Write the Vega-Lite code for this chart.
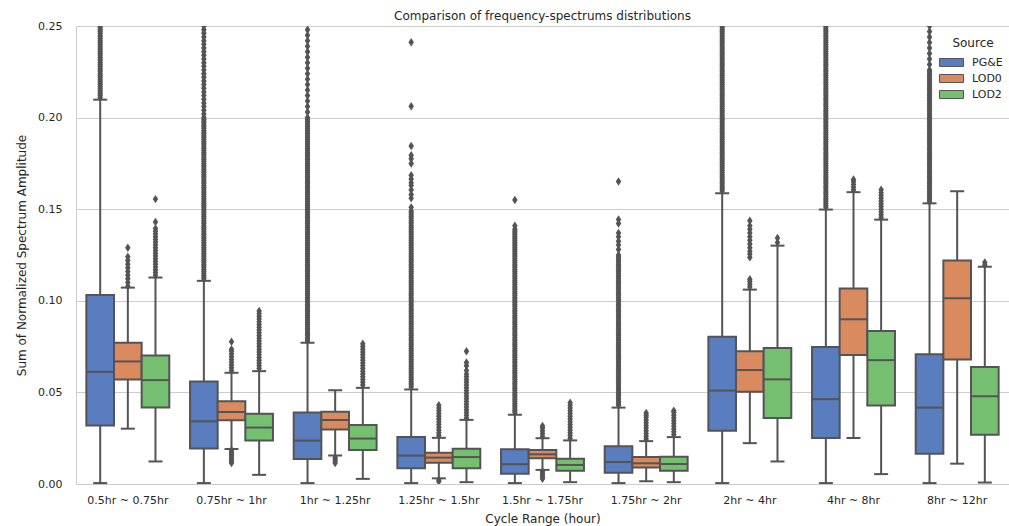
{
  "$schema": "https://vega.github.io/schema/vega-lite/v6.json",
  "width": 933,
  "height": 458,
  "autosize": {"type": "none"},
  "padding": {"left": 76, "top": 26, "right": 0, "bottom": 42},
  "background": "white",
  "title": {
    "text": "Comparison of frequency-spectrums distributions",
    "fontSize": 12,
    "fontWeight": "normal",
    "color": "#262626",
    "offset": -3,
    "anchor": "middle"
  },
  "config": {
    "font": "DejaVu Sans",
    "view": {"stroke": "#cccccc", "strokeWidth": 1},
    "axis": {
      "labelColor": "#262626",
      "titleColor": "#262626",
      "labelFontSize": 11,
      "titleFontSize": 12,
      "titleFontWeight": "normal",
      "ticks": false,
      "domain": false
    },
    "legend": {
      "orient": "none",
      "legendX": 867,
      "legendY": 12,
      "padding": 0,
      "titleFontSize": 12,
      "titleFontWeight": "normal",
      "titleColor": "#262626",
      "titleAnchor": "middle",
      "titlePadding": 4,
      "labelFontSize": 11,
      "labelColor": "#262626",
      "labelOffset": 12,
      "rowPadding": 1,
      "symbolType": "M-1.5,-0.5L1.5,-0.5L1.5,0.5L-1.5,0.5Z",
      "symbolSize": 256,
      "symbolStrokeColor": "#545454",
      "symbolStrokeWidth": 1,
      "symbolOpacity": 1
    }
  },
  "data": {
    "values": [
      {"range": "0.5hr ~ 0.75hr", "source": "PG&E", "lo": 0.0005, "q1": 0.0319, "med": 0.0612, "q3": 0.1031, "hi": 0.2098,
       "out": [0.211,0.212,0.213,0.214,0.215,0.216,0.217,0.218,0.219,0.22,0.221,0.222,0.223,0.224,0.225,0.226,0.227,0.228,0.229,0.23,0.231,0.232,0.233,0.234,0.235,0.236,0.237,0.238,0.239,0.24,0.241,0.242,0.243,0.244,0.245,0.246,0.247,0.248,0.249,0.25]},
      {"range": "0.5hr ~ 0.75hr", "source": "LOD0", "lo": 0.0302, "q1": 0.0571, "med": 0.0669, "q3": 0.0771, "hi": 0.1072,
       "out": [0.108,0.11,0.112,0.114,0.116,0.118,0.12,0.122,0.124,0.129]},
      {"range": "0.5hr ~ 0.75hr", "source": "LOD2", "lo": 0.0123, "q1": 0.0417, "med": 0.0567, "q3": 0.0702, "hi": 0.1127,
       "out": [0.114,0.1155,0.117,0.1185,0.12,0.1215,0.123,0.1245,0.126,0.1275,0.129,0.1305,0.132,0.1335,0.135,0.1365,0.138,0.1395,0.143,0.1555]},

      {"range": "0.75hr ~ 1hr", "source": "PG&E", "lo": 0.0005, "q1": 0.0194, "med": 0.0342, "q3": 0.056, "hi": 0.1109,
       "out": [0.112,0.113,0.114,0.115,0.116,0.117,0.118,0.119,0.12,0.121,0.122,0.123,0.124,0.125,0.126,0.127,0.128,0.129,0.13,0.131,0.132,0.133,0.134,0.135,0.136,0.137,0.138,0.139,0.14,0.141,0.142,0.143,0.144,0.145,0.146,0.147,0.148,0.149,0.15,0.151,0.152,0.153,0.154,0.155,0.156,0.157,0.158,0.159,0.16,0.161,0.162,0.163,0.164,0.165,0.166,0.167,0.168,0.169,0.17,0.171,0.172,0.173,0.174,0.175,0.176,0.177,0.178,0.179,0.18,0.181,0.182,0.183,0.184,0.185,0.186,0.187,0.188,0.189,0.19,0.191,0.192,0.193,0.194,0.195,0.196,0.197,0.198,0.199,0.2,0.202,0.204,0.206,0.208,0.21,0.212,0.214,0.216,0.218,0.22,0.222,0.224,0.226,0.228,0.23,0.232,0.234,0.236,0.238,0.24,0.242,0.244,0.246,0.248,0.25]},
      {"range": "0.75hr ~ 1hr", "source": "LOD0", "lo": 0.0191, "q1": 0.0348, "med": 0.0393, "q3": 0.0452, "hi": 0.0607,
       "out": [0.062,0.0635,0.065,0.0665,0.068,0.0695,0.071,0.0725,0.0735,0.0777,0.0185,0.0175,0.0165,0.0155,0.0145,0.0135,0.0125,0.0115]},
      {"range": "0.75hr ~ 1hr", "source": "LOD2", "lo": 0.005, "q1": 0.0237, "med": 0.0308, "q3": 0.0384, "hi": 0.0616,
       "out": [0.063,0.0645,0.066,0.0675,0.069,0.0705,0.072,0.0735,0.075,0.0765,0.078,0.0795,0.081,0.0825,0.084,0.0855,0.087,0.0885,0.09,0.0915,0.093,0.0945]},

      {"range": "1hr ~ 1.25hr", "source": "PG&E", "lo": 0.0005, "q1": 0.0136, "med": 0.0237, "q3": 0.039, "hi": 0.0771,
       "out": [0.078,0.079,0.08,0.081,0.082,0.083,0.084,0.085,0.086,0.087,0.088,0.089,0.09,0.091,0.092,0.093,0.094,0.095,0.096,0.097,0.098,0.099,0.1,0.101,0.102,0.103,0.104,0.105,0.106,0.107,0.108,0.109,0.11,0.111,0.112,0.113,0.114,0.115,0.116,0.117,0.118,0.119,0.12,0.121,0.122,0.123,0.124,0.125,0.126,0.127,0.128,0.129,0.13,0.131,0.132,0.133,0.134,0.135,0.136,0.137,0.138,0.139,0.14,0.141,0.142,0.143,0.144,0.145,0.146,0.147,0.148,0.149,0.15,0.151,0.152,0.153,0.154,0.155,0.156,0.157,0.158,0.159,0.16,0.161,0.162,0.163,0.164,0.165,0.166,0.167,0.168,0.169,0.17,0.171,0.172,0.173,0.174,0.175,0.176,0.177,0.178,0.179,0.18,0.181,0.182,0.183,0.184,0.185,0.186,0.187,0.188,0.189,0.19,0.191,0.192,0.193,0.194,0.195,0.196,0.197,0.198,0.199,0.2,0.203,0.206,0.209,0.212,0.215,0.218,0.221,0.224,0.227,0.23,0.233,0.236,0.239,0.242,0.245,0.248]},
      {"range": "1hr ~ 1.25hr", "source": "LOD0", "lo": 0.0155, "q1": 0.0298, "med": 0.035, "q3": 0.0395, "hi": 0.0512,
       "out": [0.0145,0.0135,0.0125,0.0115]},
      {"range": "1hr ~ 1.25hr", "source": "LOD2", "lo": 0.0028, "q1": 0.0185, "med": 0.0248, "q3": 0.0322, "hi": 0.0525,
       "out": [0.054,0.0555,0.057,0.0585,0.06,0.0615,0.063,0.0645,0.066,0.0675,0.069,0.0705,0.072,0.0735,0.075,0.0765]},

      {"range": "1.25hr ~ 1.5hr", "source": "PG&E", "lo": 0.0005, "q1": 0.0086, "med": 0.0155, "q3": 0.0257, "hi": 0.0516,
       "out": [0.053,0.054,0.055,0.056,0.057,0.058,0.059,0.06,0.061,0.062,0.063,0.064,0.065,0.066,0.067,0.068,0.069,0.07,0.071,0.072,0.073,0.074,0.075,0.076,0.077,0.078,0.079,0.08,0.081,0.082,0.083,0.084,0.085,0.086,0.087,0.088,0.089,0.09,0.091,0.092,0.093,0.094,0.095,0.096,0.097,0.098,0.099,0.1,0.101,0.102,0.103,0.104,0.105,0.106,0.107,0.108,0.109,0.11,0.111,0.112,0.113,0.114,0.115,0.116,0.117,0.118,0.119,0.12,0.121,0.122,0.123,0.124,0.125,0.126,0.127,0.128,0.129,0.13,0.131,0.132,0.133,0.134,0.135,0.136,0.137,0.138,0.139,0.14,0.141,0.142,0.143,0.144,0.145,0.146,0.147,0.148,0.149,0.151,0.156,0.158,0.1605,0.163,0.1645,0.1665,0.1685,0.175,0.1775,0.1795,0.1845,0.2062,0.2411]},
      {"range": "1.25hr ~ 1.5hr", "source": "LOD0", "lo": 0.0031, "q1": 0.0116, "med": 0.0144, "q3": 0.0171, "hi": 0.0252,
       "out": [0.0265,0.028,0.0295,0.031,0.0325,0.034,0.0355,0.037,0.0385,0.04,0.0415,0.043,0.0022,0.0014]},
      {"range": "1.25hr ~ 1.5hr", "source": "LOD2", "lo": 0.001, "q1": 0.0086, "med": 0.0147, "q3": 0.0192, "hi": 0.035,
       "out": [0.036,0.0375,0.039,0.0405,0.042,0.0435,0.045,0.0465,0.048,0.0495,0.051,0.0525,0.054,0.0555,0.057,0.0585,0.06,0.062,0.0645,0.0663,0.0725]},

      {"range": "1.5hr ~ 1.75hr", "source": "PG&E", "lo": 0.0005, "q1": 0.0056, "med": 0.0108, "q3": 0.019, "hi": 0.0378,
       "out": [0.039,0.04,0.041,0.042,0.043,0.044,0.045,0.046,0.047,0.048,0.049,0.05,0.051,0.052,0.053,0.054,0.055,0.056,0.057,0.058,0.059,0.06,0.061,0.062,0.063,0.064,0.065,0.066,0.067,0.068,0.069,0.07,0.071,0.072,0.073,0.074,0.075,0.076,0.077,0.078,0.079,0.08,0.081,0.082,0.083,0.084,0.085,0.086,0.087,0.088,0.089,0.09,0.091,0.092,0.093,0.094,0.095,0.096,0.097,0.098,0.099,0.1,0.101,0.102,0.103,0.104,0.105,0.106,0.107,0.108,0.109,0.11,0.111,0.112,0.113,0.114,0.115,0.116,0.117,0.118,0.119,0.12,0.121,0.122,0.123,0.124,0.125,0.126,0.127,0.128,0.129,0.13,0.131,0.132,0.133,0.134,0.135,0.136,0.137,0.138,0.139,0.141,0.155]},
      {"range": "1.5hr ~ 1.75hr", "source": "LOD0", "lo": 0.0077, "q1": 0.014, "med": 0.0162, "q3": 0.0185, "hi": 0.025,
       "out": [0.026,0.0275,0.029,0.0305,0.0317,0.0068,0.0058,0.0048,0.0038,0.0028]},
      {"range": "1.5hr ~ 1.75hr", "source": "LOD2", "lo": 0.001, "q1": 0.0072, "med": 0.0104, "q3": 0.0138, "hi": 0.0238,
       "out": [0.025,0.0265,0.028,0.0295,0.031,0.0325,0.034,0.0355,0.037,0.0385,0.04,0.0415,0.043,0.0444]},

      {"range": "1.75hr ~ 2hr", "source": "PG&E", "lo": 0.0005, "q1": 0.0061, "med": 0.012, "q3": 0.0206, "hi": 0.0417,
       "out": [0.043,0.044,0.045,0.046,0.047,0.048,0.049,0.05,0.051,0.052,0.053,0.054,0.055,0.056,0.057,0.058,0.059,0.06,0.061,0.062,0.063,0.064,0.065,0.066,0.067,0.068,0.069,0.07,0.071,0.072,0.073,0.074,0.075,0.076,0.077,0.078,0.079,0.08,0.081,0.082,0.083,0.084,0.085,0.086,0.087,0.088,0.089,0.09,0.091,0.092,0.093,0.094,0.095,0.096,0.097,0.098,0.099,0.1,0.101,0.102,0.103,0.104,0.105,0.106,0.107,0.108,0.109,0.11,0.111,0.112,0.113,0.114,0.115,0.116,0.117,0.118,0.119,0.12,0.121,0.122,0.123,0.124,0.125,0.128,0.1305,0.1325,0.135,0.137,0.1422,0.1444,0.1651]},
      {"range": "1.75hr ~ 2hr", "source": "LOD0", "lo": 0.0015, "q1": 0.009, "med": 0.0113, "q3": 0.0147, "hi": 0.0234,
       "out": [0.0245,0.026,0.0275,0.029,0.0305,0.032,0.0335,0.035,0.0365,0.0375,0.0388]},
      {"range": "1.75hr ~ 2hr", "source": "LOD2", "lo": 0.001, "q1": 0.0072, "med": 0.0109, "q3": 0.0149, "hi": 0.0256,
       "out": [0.027,0.0285,0.03,0.0315,0.033,0.0345,0.036,0.0375,0.039,0.04]},

      {"range": "2hr ~ 4hr", "source": "PG&E", "lo": 0.0005, "q1": 0.0291, "med": 0.051, "q3": 0.0804, "hi": 0.1587,
       "out": [0.16,0.161,0.162,0.163,0.164,0.165,0.166,0.167,0.168,0.169,0.17,0.171,0.172,0.173,0.174,0.175,0.176,0.177,0.178,0.179,0.18,0.181,0.182,0.183,0.184,0.185,0.186,0.187,0.188,0.189,0.19,0.191,0.192,0.193,0.194,0.195,0.196,0.197,0.198,0.199,0.2,0.201,0.202,0.203,0.204,0.205,0.206,0.207,0.208,0.209,0.21,0.211,0.212,0.213,0.214,0.215,0.216,0.217,0.218,0.219,0.22,0.221,0.222,0.223,0.224,0.225,0.226,0.227,0.228,0.229,0.23,0.231,0.232,0.233,0.234,0.235,0.236,0.237,0.238,0.239,0.24,0.241,0.242,0.243,0.244,0.245,0.246,0.247,0.248,0.249,0.25]},
      {"range": "2hr ~ 4hr", "source": "LOD0", "lo": 0.0223, "q1": 0.0503, "med": 0.0622, "q3": 0.0724, "hi": 0.1061,
       "out": [0.1075,0.109,0.1105,0.1118,0.1237,0.1255,0.127,0.129,0.131,0.133,0.135,0.137,0.139,0.141,0.1437]},
      {"range": "2hr ~ 4hr", "source": "LOD2", "lo": 0.0123, "q1": 0.036, "med": 0.0571, "q3": 0.0742, "hi": 0.1301,
       "out": [0.1318,0.1343]},

      {"range": "4hr ~ 8hr", "source": "PG&E", "lo": 0.0005, "q1": 0.0251, "med": 0.0463, "q3": 0.0748, "hi": 0.1498,
       "out": [0.151,0.152,0.153,0.154,0.155,0.156,0.157,0.158,0.159,0.16,0.161,0.162,0.163,0.164,0.165,0.166,0.167,0.168,0.169,0.17,0.171,0.172,0.173,0.174,0.175,0.176,0.177,0.178,0.179,0.18,0.181,0.182,0.183,0.184,0.185,0.186,0.187,0.188,0.189,0.19,0.191,0.192,0.193,0.194,0.195,0.196,0.197,0.198,0.199,0.2,0.201,0.202,0.203,0.204,0.205,0.206,0.207,0.208,0.209,0.21,0.211,0.212,0.213,0.214,0.215,0.216,0.217,0.218,0.219,0.22,0.221,0.222,0.223,0.224,0.225,0.226,0.227,0.228,0.229,0.23,0.231,0.232,0.233,0.234,0.235,0.236,0.237,0.238,0.239,0.24,0.241,0.242,0.243,0.244,0.245,0.246,0.247,0.248,0.249,0.25]},
      {"range": "4hr ~ 8hr", "source": "LOD0", "lo": 0.0251, "q1": 0.0704, "med": 0.0899, "q3": 0.1067, "hi": 0.1593,
       "out": [0.1605,0.162,0.1635,0.165,0.1662]},
      {"range": "4hr ~ 8hr", "source": "LOD2", "lo": 0.0054, "q1": 0.0428, "med": 0.0676, "q3": 0.0835, "hi": 0.1443,
       "out": [0.1455,0.147,0.1485,0.15,0.1515,0.153,0.1545,0.156,0.1575,0.159,0.1606]},

      {"range": "8hr ~ 12hr", "source": "PG&E", "lo": 0.0005, "q1": 0.0165, "med": 0.0417, "q3": 0.0708, "hi": 0.1532,
       "out": [0.154,0.155,0.156,0.157,0.158,0.159,0.16,0.161,0.162,0.163,0.164,0.165,0.166,0.167,0.168,0.169,0.17,0.171,0.172,0.173,0.174,0.175,0.176,0.177,0.178,0.179,0.18,0.181,0.182,0.183,0.184,0.185,0.186,0.187,0.188,0.189,0.19,0.191,0.192,0.193,0.194,0.195,0.196,0.197,0.198,0.199,0.2,0.201,0.202,0.203,0.204,0.205,0.206,0.207,0.208,0.209,0.21,0.211,0.212,0.213,0.214,0.215,0.216,0.217,0.218,0.219,0.22,0.221,0.222,0.223,0.224,0.225,0.226,0.229,0.232,0.235,0.238,0.241,0.244,0.247,0.25]},
      {"range": "8hr ~ 12hr", "source": "LOD0", "lo": 0.0111, "q1": 0.068, "med": 0.1014, "q3": 0.122, "hi": 0.1598,
       "out": []},
      {"range": "8hr ~ 12hr", "source": "LOD2", "lo": 0.0008, "q1": 0.0269, "med": 0.0479, "q3": 0.0638, "hi": 0.1186,
       "out": [0.1195,0.1209]}
    ]
  },
  "encoding": {
    "x": {
      "field": "range",
      "type": "nominal",
      "sort": ["0.5hr ~ 0.75hr", "0.75hr ~ 1hr", "1hr ~ 1.25hr", "1.25hr ~ 1.5hr", "1.5hr ~ 1.75hr", "1.75hr ~ 2hr", "2hr ~ 4hr", "4hr ~ 8hr", "8hr ~ 12hr"],
      "scale": {"paddingInner": 0.2, "paddingOuter": 0.1},
      "title": "Cycle Range (hour)",
      "axis": {"labelAngle": 0, "grid": false, "labelPadding": 10, "titlePadding": 8}
    },
    "xOffset": {
      "field": "source",
      "type": "nominal",
      "sort": ["PG&E", "LOD0", "LOD2"],
      "scale": {"paddingInner": 0, "paddingOuter": 0}
    }
  },
  "layer": [
    {
      "mark": {"type": "rule", "color": "#545454", "strokeWidth": 2},
      "encoding": {
        "y": {
          "field": "lo",
          "type": "quantitative",
          "scale": {"domain": [0, 0.25], "nice": false, "zero": true},
          "title": "Sum of Normalized Spectrum Amplitude",
          "axis": {
            "values": [0, 0.05, 0.1, 0.15, 0.2, 0.25],
            "format": ".2f",
            "grid": true,
            "gridColor": "#cccccc",
            "gridWidth": 1,
            "labelPadding": 14,
            "titlePadding": 9
          }
        },
        "y2": {"field": "hi"}
      }
    },
    {
      "mark": {"type": "tick", "color": "#545454", "size": 14, "thickness": 2, "opacity": 1},
      "encoding": {"y": {"field": "lo", "type": "quantitative", "title": "Sum of Normalized Spectrum Amplitude"}}
    },
    {
      "mark": {"type": "tick", "color": "#545454", "size": 14, "thickness": 2, "opacity": 1},
      "encoding": {"y": {"field": "hi", "type": "quantitative", "title": "Sum of Normalized Spectrum Amplitude"}}
    },
    {
      "mark": {"type": "bar", "stroke": "#545454", "strokeWidth": 2, "opacity": 1},
      "encoding": {
        "y": {"field": "q1", "type": "quantitative", "title": "Sum of Normalized Spectrum Amplitude"},
        "y2": {"field": "q3"},
        "color": {
          "field": "source",
          "type": "nominal",
          "title": "Source",
          "sort": ["PG&E", "LOD0", "LOD2"],
          "scale": {"domain": ["PG&E", "LOD0", "LOD2"], "range": ["#597dbf", "#d98b5f", "#75bf71"]}
        }
      }
    },
    {
      "mark": {"type": "tick", "color": "#545454", "size": 27, "thickness": 2, "opacity": 1},
      "encoding": {"y": {"field": "med", "type": "quantitative", "title": "Sum of Normalized Spectrum Amplitude"}}
    },
    {
      "transform": [{"flatten": ["out"]}],
      "mark": {
        "type": "point",
        "shape": "M-0.65,0L0,-1L0.65,0L0,1Z",
        "filled": true,
        "color": "#545454",
        "size": 72,
        "opacity": 1,
        "clip": true
      },
      "encoding": {"y": {"field": "out", "type": "quantitative", "title": "Sum of Normalized Spectrum Amplitude"}}
    }
  ]
}
